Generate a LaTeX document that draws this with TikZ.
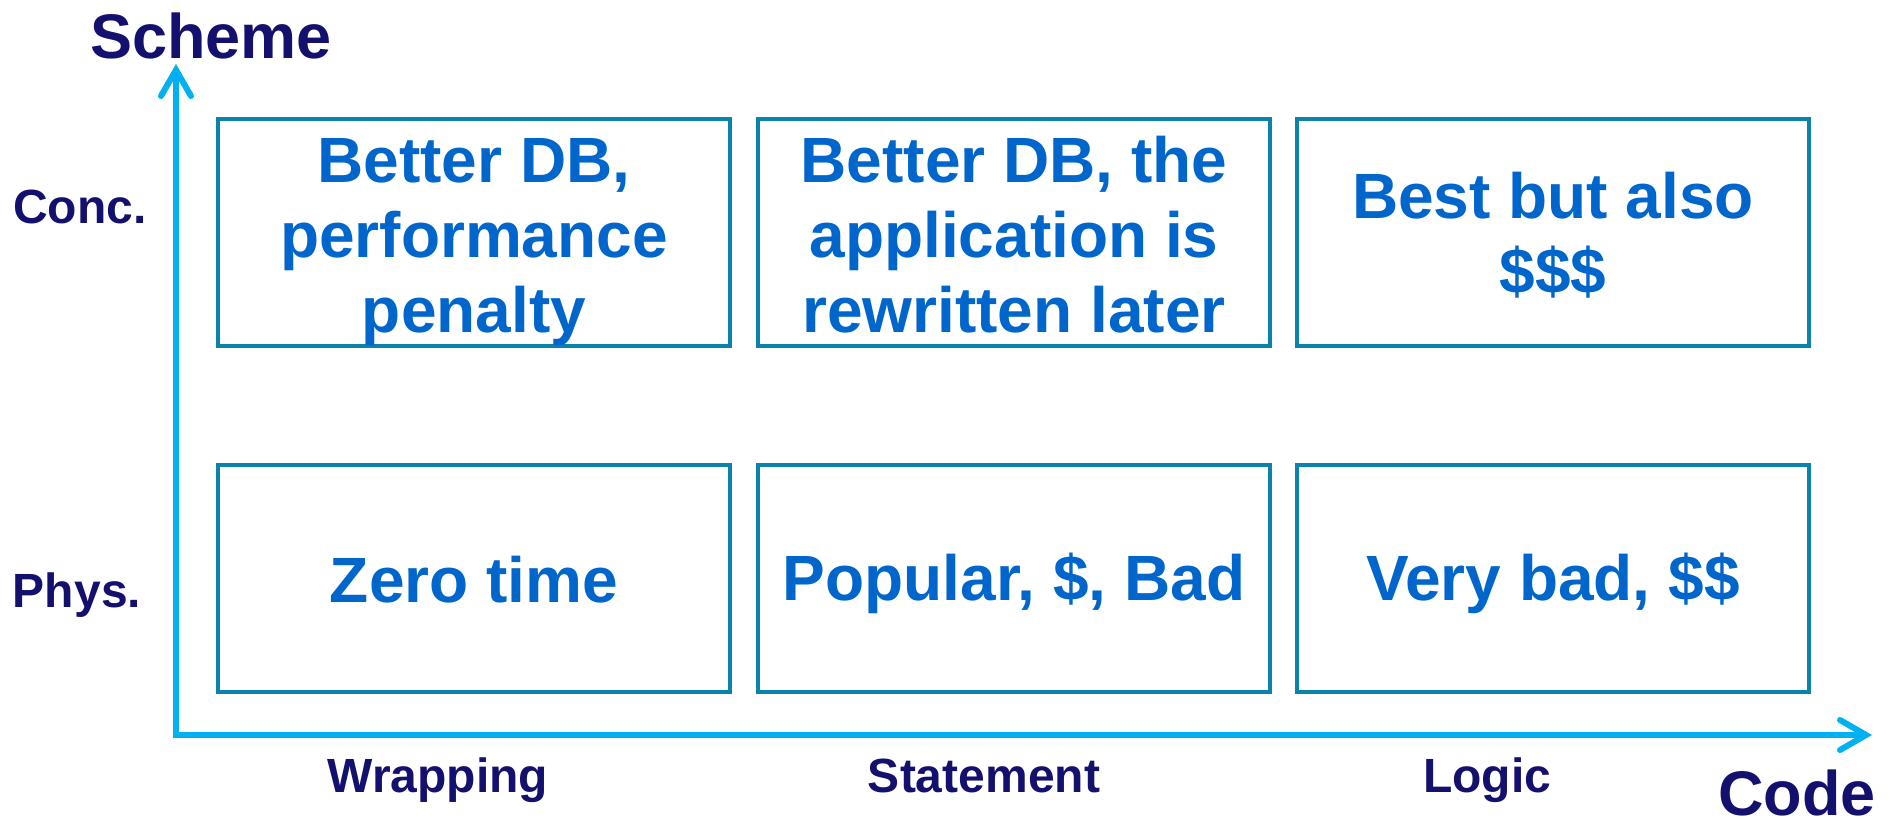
\documentclass[tikz,border=0pt]{standalone}
\usepackage{fontspec}
\setmainfont{Liberation Sans}
\usepackage{tikz}
\usetikzlibrary{positioning, arrows.meta}
\definecolor{axisblue}{HTML}{00B0F0}
\definecolor{boxteal}{HTML}{0A82AA}
\definecolor{cellblue}{HTML}{0066CC}
\definecolor{navy}{HTML}{14106E}
\tikzset{
	cellnode/.style={
			shape=rectangle,
			draw=boxteal,
			line width=4pt,
			minimum width=512pt,
			minimum height=227pt,
			inner sep=0pt,
			align=center,
			text=cellblue,
			font=\fontsize{64}{75}\selectfont\bfseries
		},
	celltext/.style={
			inner sep=0pt,
			align=center,
			text=cellblue,
			font=\fontsize{64}{75}\selectfont\bfseries
		},
	ticklabel/.style={
			text=navy,
			inner sep=0pt,
			font=\fontsize{48}{52}\selectfont\bfseries
		},
	axislabel/.style={
			text=navy,
			inner sep=0pt,
			font=\fontsize{63}{68}\selectfont\bfseries
		},
	axisline/.style={
			draw=axisblue,
			line width=6pt,
			line join=miter,
			{Straight Barb[length=26pt,width=30pt,line cap=round]}-{Straight Barb[length=26pt,width=30pt,line cap=round]}
		}
}

\begin{document}
\begin{tikzpicture}[x=1pt, y=-1pt]

  \useasboundingbox (0,0) rectangle (1889,827);

  % axes
  \coordinate (origin) at (176,735);
  \coordinate (ytip) at (176,64);
  \coordinate (xtip) at (1872,735);
  \draw[axisline] (ytip) -- (origin) -- (xtip);

  \node[axislabel] (scheme) at (211,36) {Scheme};
  \node[axislabel] (code) at (1797,793) {Code};

  % row and column labels
  \node[ticklabel] (conc) at (80,207) {Conc.};
  \node[ticklabel] (phys) at (77,595) {Phys.};
  \node[ticklabel, anchor=base] (wrap) at (438,792) {Wrapping};
  \node[ticklabel, anchor=base] (stmt) at (984,792) {Statement};
  \node[ticklabel, anchor=base] (logic) at (1487,792) {Logic};

  % cells
  \node[cellnode] (c11) at (474,232) {};
  \node[cellnode] (c12) at (1014,232) {};
  \node[cellnode] (c13) at (1553,232) {};
  \node[cellnode] (c21) at (474,578) {};
  \node[cellnode] (c22) at (1014,578) {};
  \node[cellnode] (c23) at (1553,578) {};

  \node[celltext] (t11) at ([yshift=-10pt]c11) {Better DB,\\performance\\penalty};
  \node[celltext] (t12) at ([yshift=-3pt]c12) {Better DB, the\\application is\\rewritten later};
  \node[celltext] (t13) at ([yshift=-3pt]c13) {Best but also\\\$\$\$};
  \node[celltext] (t21) at ([yshift=-2pt]c21) {Zero time};
  \node[celltext] (t22) at ([yshift=-5pt]c22) {Popular, \$, Bad};
  \node[celltext] (t23) at ([yshift=-5pt]c23) {Very bad, \$\$};

\end{tikzpicture}
\end{document}
